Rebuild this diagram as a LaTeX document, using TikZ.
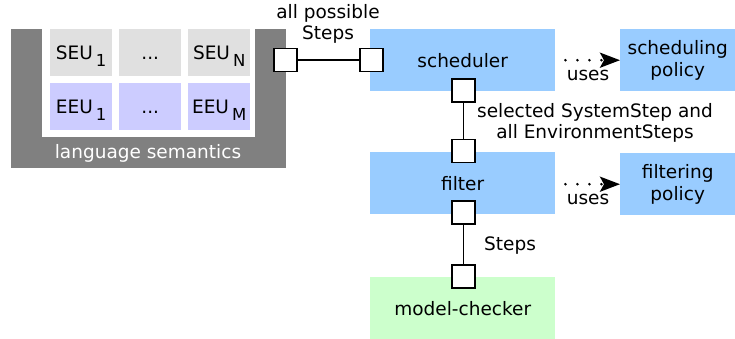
\documentclass[tikz,border=0pt]{standalone}
\usepackage{fontspec}
\setmainfont{DejaVu Sans}
\usetikzlibrary{arrows.meta}
\definecolor{boxblue}{HTML}{99CCFF}
\definecolor{mcgreen}{HTML}{CCFFCC}
\definecolor{seugray}{HTML}{E0E0E0}
\definecolor{eeublue}{HTML}{CCCCFF}
\definecolor{semgray}{HTML}{808080}
\newcommand\subidx[1]{\,\raisebox{-7pt}{\fontsize{16.5}{16.5}\selectfont #1}}
\begin{document}
\begin{tikzpicture}[x=1pt,y=-1pt,
  font=\fontsize{18.5}{21.5}\selectfont,
  comp/.style={fill=boxblue, draw=none, minimum width=185pt, minimum height=62pt, inner sep=0pt, anchor=north west, align=center},
  cell/.style={draw=none, minimum width=62pt, minimum height=47pt, inner sep=0pt, anchor=north west, text height=13pt, text depth=0pt},
  port/.style={draw=black, fill=white, line width=1.3pt, minimum size=23pt, inner sep=0pt},
  wire/.style={line width=1.5pt},
  uses/.style={line width=2.8pt, dash pattern=on 0pt off 12pt, line cap=round, shorten <=10pt,
    -{Stealth[length=20pt,width=15pt,inset=4pt]}},
  lbl/.style={inner sep=0pt, align=center}]
\useasboundingbox (0,0) rectangle (735,338);
% language semantics frame
\fill[semgray] (11,29) rectangle (286,168);
\fill[white] (42,29) rectangle (255,137);
\node[lbl, text=white] (semlbl) at (148,153) {language semantics};
\node[cell, fill=seugray] (seu1) at (50,29) {SEU\subidx{1}};
\node[cell, fill=seugray] (seud) at (119,29) {...};
\node[cell, fill=seugray] (seun) at (188,29) {SEU\subidx{N}};
\node[cell, fill=eeublue] (eeu1) at (50,83) {EEU\subidx{1}};
\node[cell, fill=eeublue] (eeud) at (119,83) {...};
\node[cell, fill=eeublue] (eeum) at (188,83) {EEU\subidx{M}};
% components
\node[comp] (sched) at (370,29) {scheduler};
\node[comp] (filt) at (370,152) {filter};
\node[comp, fill=mcgreen] (mc) at (370,277) {model-checker};
\node[comp, minimum width=115pt] (spol) at (620,29) {scheduling\\policy};
\node[comp, minimum width=115pt] (fpol) at (620,153) {filtering\\policy};
% ports
\node[port] (pA) at (285.5,60) {};
\node[port] (pB) at (371.5,60) {};
\node[port] (pS) at (463.5,90.5) {};
\node[port] (pF1) at (463.5,151) {};
\node[port] (pF2) at (463.5,212.5) {};
\node[port] (pM) at (463.5,276.5) {};
% wires
\draw[wire] (pA) -- (pB);
\draw[wire] (pS) -- (pF1);
\draw[wire] (pF2) -- (pM);
% uses arrows
\draw[uses] (sched.east |- spol.west) -- (spol.west);
\draw[uses] (filt.east |- fpol.west) -- (fpol.west);
% labels
\node[lbl] (l1) at (328,24) {all possible\\Steps};
\node[lbl] (l2) at (595,123) {selected SystemStep and\\all EnvironmentSteps};
\node[lbl] (l3) at (510,246) {Steps};
\node[lbl] (u1) at (588,75) {uses};
\node[lbl] (u2) at (588,199) {uses};
\end{tikzpicture}
\end{document}
